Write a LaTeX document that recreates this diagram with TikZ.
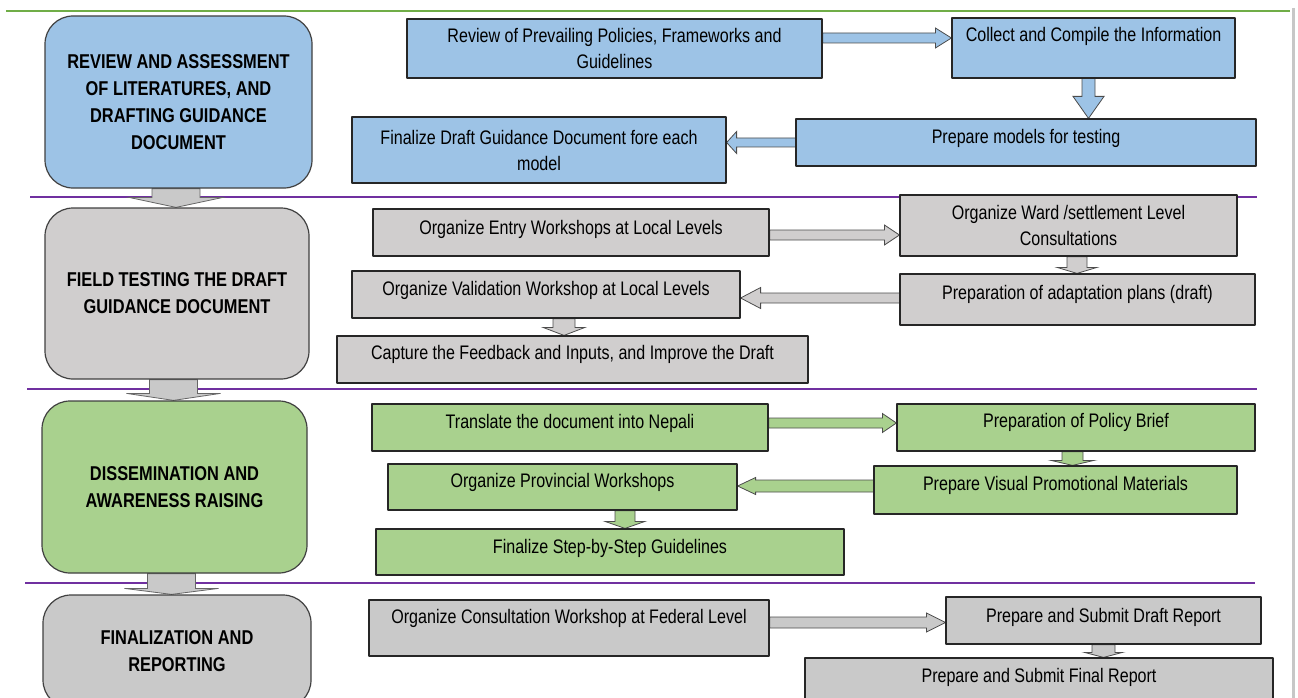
\documentclass[tikz,border=0pt]{standalone}
\usepackage{fontspec}
\setmainfont{Liberation Sans}[FakeStretch=0.82]
\usetikzlibrary{calc,backgrounds}
\definecolor{bluefill}{HTML}{9DC3E6}
\definecolor{greyfill}{HTML}{D0CECE}
\definecolor{greyfilltwo}{HTML}{C9C9C9}
\definecolor{greenfill}{HTML}{A9D18E}
\definecolor{sepline}{HTML}{7030A0}
\definecolor{topline}{HTML}{70AD47}
% block arrow: [style]{start}{tip}{shaft half width}{head half width}{head length}
\newcommand{\blockarrow}[6][]{%
  \coordinate (ba) at #2;
  \coordinate (bb) at #3;
  \coordinate (bh) at ($(bb)!#6!(ba)$);
  \draw[#1] ($(ba)!#4!90:(bb)$) -- ($(bh)!#4!90:(bb)$) -- ($(bh)!#5!90:(bb)$) -- (bb)
    -- ($(bh)!#5!-90:(bb)$) -- ($(bh)!#4!-90:(bb)$) -- ($(ba)!#4!-90:(bb)$) -- cycle;}
\begin{document}
\begin{tikzpicture}[x=1pt,y=-1pt,line join=round,
    sz/.style 2 args={minimum width=#1pt,minimum height=#2pt},
    lift/.style={text height=15.4pt,text depth=#1},
    phase/.style={draw=black!75,line width=1.2pt,rounded corners=28pt,align=center,
      font=\fontsize{20}{27}\selectfont\bfseries},
    stepbox/.style={draw=black!85,line width=1.2pt,align=center,inner sep=2pt,
      font=\fontsize{19.6}{26}\selectfont},
    bluebox/.style={stepbox,fill=bluefill},
    greybox/.style={stepbox,fill=greyfill},
    greenbox/.style={stepbox,fill=greenfill},
    sep/.style={sepline,line width=2.8pt},
    blkblue/.style={fill=bluefill,draw=black!70,line width=0.8pt},
    blkgrey/.style={fill=greyfill,draw=black!70,line width=0.8pt},
    blkgreytwo/.style={fill=greyfilltwo,draw=black!70,line width=0.8pt},
    blkgreen/.style={fill=greenfill,draw=black!70,line width=0.8pt},
    blkphase/.style={fill=greyfilltwo,draw=black!60,line width=0.8pt}]
\useasboundingbox (0,0) rectangle (1298,698);
\clip (0,0) rectangle (1298,698);
\begin{scope}[on background layer]
  \draw[topline,line width=2.8pt] (6,11) -- (1290,11);
  \draw[black!22,line width=3pt] (1293,8) -- (1293,698);
  \draw[sep] (30,197) -- (1257,197);
  \draw[sep] (27,389) -- (1257,389);
  \draw[sep] (25,583) -- (1255,583);
\end{scope}
% phases
\node[phase,fill=bluefill,sz={267}{172}] (ph1) at (178.5,102) {REVIEW AND ASSESSMENT\\OF LITERATURES, AND\\DRAFTING GUIDANCE\\DOCUMENT};
\node[phase,fill=greyfill,sz={264}{171}] (ph2) at (177,293.5) {FIELD TESTING THE DRAFT\\GUIDANCE DOCUMENT};
\node[phase,fill=greenfill,sz={265}{172}] (ph3) at (174.5,487) {DISSEMINATION AND\\AWARENESS RAISING};
\node[phase,fill=greyfilltwo,sz={268}{113}] (ph4) at (177,651.5) {FINALIZATION AND\\REPORTING};
% review
\node[bluebox,sz={415}{59}] (rev) at (614.5,48.5) {Review of Prevailing Policies, Frameworks and\\Guidelines};
\node[bluebox,sz={283}{60},lift=28pt] (col) at (1093.5,48) {Collect and Compile the Information};
\node[bluebox,sz={460}{47},lift=13pt] (mod) at (1026,142.5) {Prepare models for testing};
\node[bluebox,sz={374}{66}] (fin) at (539,150) {Finalize Draft Guidance Document fore each\\model};
% field testing
\node[greybox,sz={396}{47},lift=11pt] (entry) at (571,232.5) {Organize Entry Workshops at Local Levels};
\node[greybox,sz={337}{61}] (ward) at (1068.5,225.5) {Organize Ward /settlement Level\\Consultations};
\node[greybox,sz={355}{51},lift=15pt] (adapt) at (1077.5,299.5) {Preparation of adaptation plans (draft)};
\node[greybox,sz={388}{47},lift=13pt] (valid) at (546,294.5) {Organize Validation Workshop at Local Levels};
\node[greybox,sz={471}{47},lift=15pt] (capt) at (572.5,359.5) {Capture the Feedback and Inputs, and Improve the Draft};
% dissemination
\node[greenbox,sz={396}{47},lift=13pt] (trans) at (570,427.5) {Translate the document into Nepali};
\node[greenbox,sz={358}{47},lift=15pt] (brief) at (1076,427.5) {Preparation of Policy Brief};
\node[greenbox,sz={363}{48},lift=14pt] (visual) at (1055.5,490) {Prepare Visual Promotional Materials};
\node[greenbox,sz={349}{46},lift=14pt] (prov) at (562.5,487) {Organize Provincial Workshops};
\node[greenbox,sz={468}{46},lift=12pt] (guide) at (610,552) {Finalize Step-by-Step Guidelines};
% reporting
\node[greybox,fill=greyfilltwo,sz={400}{56},lift=24pt] (cons) at (569,628) {Organize Consultation Workshop at Federal Level};
\node[greybox,fill=greyfilltwo,sz={315}{47},lift=11pt] (draft) at (1103.5,620.5) {Prepare and Submit Draft Report};
\node[greybox,fill=greyfilltwo,sz={468}{62},lift=28pt] (frep) at (1039,689) {Prepare and Submit Final Report};
\begin{scope}[on background layer]
  \blockarrow[blkphase]{([xshift=-2.5pt]ph1.south)}{(ba |- ph2.north)}{24pt}{47pt}{10pt}
  \blockarrow[blkphase]{([xshift=-3.5pt]ph2.south)}{(ba |- ph3.north)}{24pt}{47pt}{7pt}
  \blockarrow[blkphase]{([xshift=-3pt]ph3.south)}{(ba |- ph4.north)}{24pt}{47pt}{6pt}
  \blockarrow[blkblue]{([yshift=10.5pt]rev.east)}{(ba -| col.west)}{5pt}{10pt}{16pt}
  \blockarrow[blkblue]{([xshift=-5pt]col.south)}{(ba |- mod.north)}{6.5pt}{15.5pt}{22pt}
  \blockarrow[blkblue]{(mod.west)}{(ba -| fin.east)}{4.5pt}{11pt}{10pt}
  \blockarrow[blkgrey]{([yshift=-2.5pt]entry.east)}{(ba -| ward.west)}{5pt}{10pt}{15pt}
  \blockarrow[blkgrey]{([xshift=8.5pt]ward.south)}{(ba |- adapt.north)}{10pt}{20pt}{6pt}
  \blockarrow[blkgrey]{([yshift=1.5pt]adapt.west)}{(ba -| valid.east)}{5pt}{10.5pt}{20pt}
  \blockarrow[blkgrey]{([xshift=18pt]valid.south)}{(ba |- capt.north)}{11pt}{21pt}{8pt}
  \blockarrow[blkgreen]{([yshift=4.5pt]trans.east)}{(ba -| brief.west)}{5pt}{9.5pt}{14pt}
  \blockarrow[blkgreen]{([xshift=-3.5pt]brief.south)}{(ba |- visual.north)}{10.5pt}{21.5pt}{5pt}
  \blockarrow[blkgreen]{([yshift=4pt]visual.west)}{(ba -| prov.east)}{6pt}{8.5pt}{18pt}
  \blockarrow[blkgreen]{([xshift=62.5pt]prov.south)}{(ba |- guide.north)}{10pt}{20pt}{7pt}
  \blockarrow[blkgreytwo]{([yshift=5.5pt]cons.east)}{(ba -| draft.west)}{5.5pt}{9.5pt}{19pt}
  \blockarrow[blkgreytwo]{(draft.south)}{(ba |- frep.north)}{11.5pt}{19pt}{5pt}
\end{scope}
\end{tikzpicture}
\end{document}
